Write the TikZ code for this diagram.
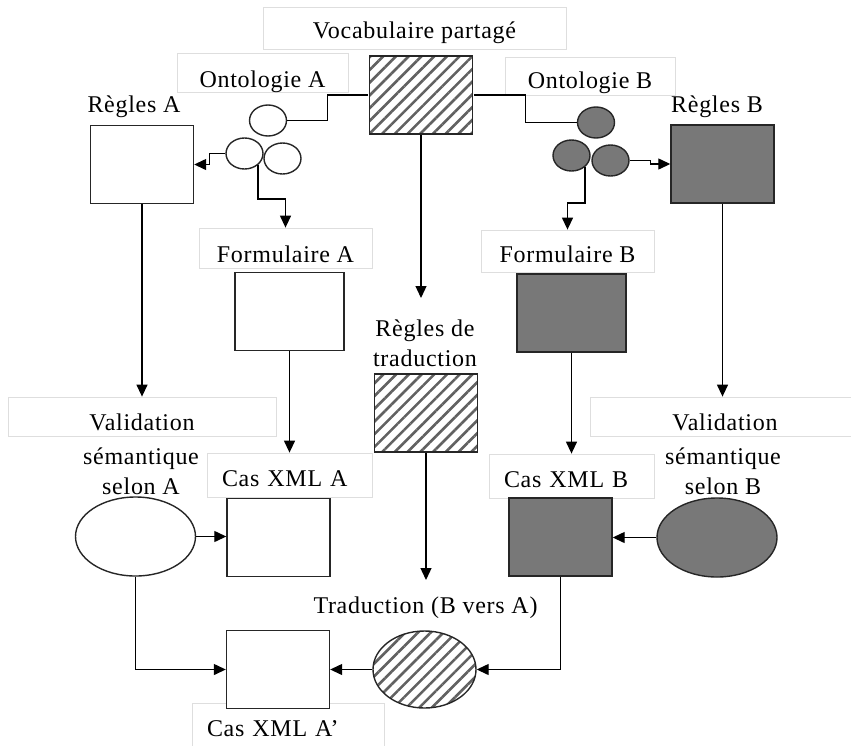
\documentclass[tikz,border=0pt]{standalone}
\usepackage{fontspec}
\setmainfont{Liberation Serif}[LetterSpace=3]
\usetikzlibrary{shapes.geometric,patterns.meta,arrows.meta}

\colorlet{shape edge}{black!85}
\colorlet{dark area}{black!53}
\colorlet{hatch line}{black!62}
\colorlet{tag edge}{black!13}
\tikzset{
  plain/.style={draw=shape edge, line width=1.4pt, fill=white},
  dark/.style={draw=shape edge, line width=1.4pt, fill=dark area},
  hatched/.style={draw=shape edge, line width=1.4pt,
    pattern={Lines[angle=45,distance=9pt,line width=2.6pt]}, pattern color=hatch line}
  }
\tikzstyle{block} = [rectangle, minimum width=103pt, minimum height=78pt, inner sep=0pt]
\tikzstyle{blob} = [ellipse, minimum width=120pt, minimum height=79pt, inner sep=0pt]
\tikzstyle{bubble} = [ellipse, minimum width=37pt, minimum height=31pt, inner sep=0pt]
\tikzstyle{tag} = [rectangle, draw=tag edge, fill=white, line width=0.8pt, inner sep=0pt]
\tikzstyle{case tag} = [tag, align=left, inner xsep=15pt]
\tikzstyle{caption} = [inner sep=0pt, text height=17pt, text depth=5pt]
\tikzstyle{wire} = [draw, line width=1.3pt, -]
\tikzstyle{flow} = [draw, line width=1.3pt, -{Triangle[length=12pt,width=11pt]}]

\begin{document}
\begin{tikzpicture}[x=1pt, y=-1pt, font=\fontsize{24}{30}\selectfont]
    \useasboundingbox (0,0) rectangle (851,745);

    % The pale label boxes
    \foreach \pos/\name/\bw/\bh/\bd/\txt in {{(414.5,28)/vocTag/303/31/11/Vocabulaire partagé}, {(262.5,72.5)/ontATag/171/34/5/Ontologie A}, {(590,76)/ontBTag/170/31/7/Ontologie B}, {(285.5,248)/formATag/173/34/6/Formulaire A}, {(567.5,251)/formBTag/173/32/10/Formulaire B}, {(142,416.5)/valATag/268/33/6/Validation}, {(725,416.5)/valBTag/270/33/6/Validation}} {
      \node[tag, minimum width=\bw pt, text height=\bh pt, text depth=\bd pt] (\name) at \pos {\txt};
    }
    \foreach \pos/\name/\bw/\bd/\txt in {{(289.5,475)/casATag/135/11/Cas XML A}, {(571.5,476)/casBTag/135/11/Cas XML B}, {(288,731.5)/casPTag/162/24/Cas XML A’}} {
      \node[case tag, text width=\bw pt, text height=33pt, text depth=\bd pt] (\name) at \pos {\txt};
    }

    % The boxes
    \node[block, hatched] (voc) at (421,95) {};
    \node[block, plain] (reglesA) at (142,164.5) {};
    \node[block, dark] (reglesB) at (722.5,164) {};
    \node[block, plain, minimum width=109pt] (formA) at (289.5,311.5) {};
    \node[block, dark, minimum width=109pt] (formB) at (571.5,313) {};
    \node[block, hatched] (regTrad) at (426,413) {};
    \node[block, plain] (casA) at (278.5,537.5) {};
    \node[block, dark] (casB) at (560.5,537) {};
    \node[block, plain] (casP) at (278,669.5) {};

    % The ellipses
    \node[blob, plain] (valA) at (135.5,536.5) {};
    \node[blob, dark] (valB) at (717,537.5) {};
    \node[blob, hatched, minimum width=103pt, minimum height=77pt] (trad) at (424.5,669.5) {};

    % The ontology bubbles
    \foreach \pos/\name/\look in {{(268,120.5)/ontA1/plain}, {(244.5,153.5)/ontA2/plain}, {(282.5,158.5)/ontA3/plain}, {(596,122.5)/ontB1/dark}, {(571.5,155.5)/ontB2/dark}, {(610.5,160.5)/ontB3/dark}} {
      \node[bubble, \look] (\name) at \pos {};
    }

    % The free texts
    \node[caption] (reglesATxt) at (134,106) {Règles A};
    \node[caption] (reglesBTxt) at (717,106) {Règles B};
    \node[caption] (tradTxt) at (425.5,607.5) {Traduction (B vers A)};
    \node[align=center, inner sep=0pt] (regTradTxt) at (425,343) {Règles de\\traduction};
    \node[align=center, inner sep=0pt] (semA) at (141,471) {sémantique\\selon A};
    \node[align=center, inner sep=0pt] (semB) at (723,471) {sémantique\\selon B};
    \coordinate (tradTip) at (421,298);
    \coordinate (traductionTip) at (426,580);

    % The connections
    \path[wire] (voc.west) -- ++(-41,0) |- (ontA1.east);
    \path[wire] (voc.east) -- ++(52,0) |- (ontB1.west);
    \path[flow] (ontA2.west) -- ++(-16,0) |- (reglesA.east);
    \path[flow] (ontB3.east) -- ++(21,0) |- (reglesB.west);
    \path[flow] (ontA2.south east) -- ++(0,34) -| (formATag.north);
    \path[flow] (ontB2.south east) -- ++(0,36) -| (formBTag.north);
    \path[flow] (voc.south) -- (tradTip);
    \foreach \source/\sink in {reglesA/valATag, reglesB/valBTag, formA/casATag, formB/casBTag} {
      \path[flow] (\source.south) -- (\source.south |- \sink.north);
    }
    \path[flow] (regTrad.south) -- (traductionTip);
    \path[flow] (valA.east) -- (valA.east -| casA.west);
    \path[flow] (valB.west) -- (valB.west -| casB.east);
    \path[flow] (valA.south) |- (casP.west);
    \path[flow] (casB.south) |- (trad.east);
    \path[flow] (trad.west) -- (casP.east);

\end{tikzpicture}
\end{document}
